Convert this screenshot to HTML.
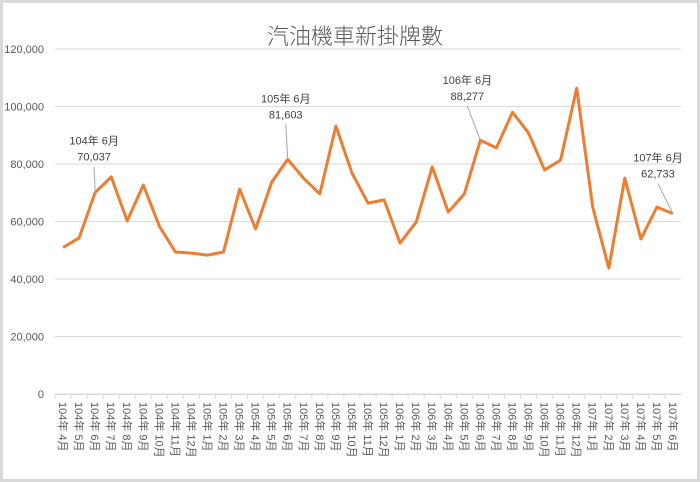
<!DOCTYPE html>
<html><head><meta charset="utf-8"><style>
body{margin:0;background:#fff;}
svg{display:block;font-family:"Liberation Sans","Noto Sans CJK TC",sans-serif;}
</style></head><body>
<svg id="chart" width="700" height="482" viewBox="0 0 700 482" xmlns="http://www.w3.org/2000/svg">
<rect x="1.5" y="1.5" width="697" height="479" fill="#fff" stroke="#d9d9d9" stroke-width="3"/>
<text x="355" y="44" text-anchor="middle" font-size="22" fill="#595959" font-family="'Noto Sans CJK TC',sans-serif" font-weight="300">汽油機車新掛牌數</text>
<g id="grid"></g><g id="ylabels"></g><g id="xlabels"></g><g id="series"></g><g id="annots"></g>
</svg>
<script>
const categories=["104年 4月","104年 5月","104年 6月","104年 7月","104年 8月","104年 9月","104年 10月","104年 11月","104年 12月","105年 1月","105年 2月","105年 3月","105年 4月","105年 5月","105年 6月","105年 7月","105年 8月","105年 9月","105年 10月","105年 11月","105年 12月","106年 1月","106年 2月","106年 3月","106年 4月","106年 5月","106年 6月","106年 7月","106年 8月","106年 9月","106年 10月","106年 11月","106年 12月","107年 1月","107年 2月","107年 3月","107年 4月","107年 5月","107年 6月"];
const values=[51000,54300,70037,75500,60200,72700,58400,49400,49000,48300,49400,71300,57400,73700,81603,75000,69600,93200,76900,66400,67500,52500,59800,79000,63300,69600,88277,85600,98000,90800,77900,81400,106400,65000,43800,75100,53900,65000,62733];
const yTicks=[0,20000,40000,60000,80000,100000,120000];
const annotIdx=[2,14,26,38];
const NS="http://www.w3.org/2000/svg";
const L=55,R=681,T=49,B=394,yMax=120000;
const step=(R-L)/categories.length;
const x=i=>L+step*(i+0.5);
const y=v=>B-(v/yMax)*(B-T);
function mk(tag,attrs,parent){const e=document.createElementNS(NS,tag);for(const k in attrs)e.setAttribute(k,attrs[k]);parent.appendChild(e);return e;}
const grid=document.getElementById('grid'),yl=document.getElementById('ylabels'),xl=document.getElementById('xlabels'),se=document.getElementById('series'),an=document.getElementById('annots');
yTicks.forEach(t=>{
  const g=mk('line',{x1:L,x2:R,y1:y(t),y2:y(t),stroke:'#d9d9d9','stroke-width':1},grid);
  
  
  const tx=mk('text',{x:44,y:y(t)+4,'text-anchor':'end','font-size':11,fill:'#595959'},yl);
  tx.textContent=t.toLocaleString('en-US');
  
  
});
const ax=mk('line',{x1:L,x2:R,y1:B+0.5,y2:B+0.5,stroke:'#d9d9d9','stroke-width':1},grid);


categories.forEach((c,i)=>{
  const tk=mk('line',{x1:L+step*i,x2:L+step*i,y1:B,y2:B+5,stroke:'#d9d9d9'},grid);
  
  
  const tx=mk('text',{x:0,y:0,'font-size':11,fill:'#595959',transform:`translate(${x(i)-4},${B+8}) rotate(90)`},xl);
  tx.textContent=c;
  
  
});
const pts=values.map((v,i)=>x(i).toFixed(1)+','+y(v).toFixed(1)).join(' ');
const pl=mk('polyline',{points:pts,fill:'none',stroke:'#ED7D31','stroke-width':3,'stroke-linejoin':'round'},se);


const offs=[[-1,-36],[-2,-45],[-13,-44],[-15,-40]];
annotIdx.forEach((idx,k)=>{
  const px=x(idx),py=y(values[idx]);
  const lx=px+offs[k][0],ly=py+offs[k][1];
  const ln=mk('line',{x1:lx,y1:ly+10,x2:px,y2:py,stroke:'#a6a6a6','stroke-width':1},an);
  
  
  const t1=mk('text',{x:lx,y:ly-12,'text-anchor':'middle','font-size':11,fill:'#404040'},an);
  t1.textContent=categories[idx];
  
  
  const t2=mk('text',{x:lx,y:ly+4,'text-anchor':'middle','font-size':11,fill:'#404040'},an);
  t2.textContent=values[idx].toLocaleString('en-US');
  
  
});
</script>
</body></html>
